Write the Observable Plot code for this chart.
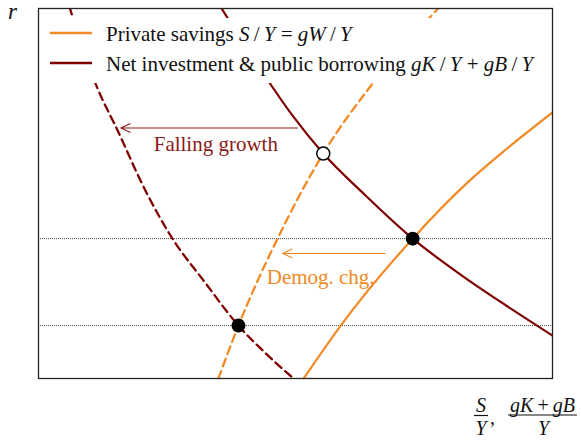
<!DOCTYPE html>
<html><head><meta charset="utf-8">
<script src="https://cdn.jsdelivr.net/npm/d3@7"></script>
<script src="https://cdn.jsdelivr.net/npm/@observablehq/plot@0.6"></script>
<style>body{margin:0;background:#fff}</style>
</head><body><div id="chart"></div>
<script>
// x: S/Y or (gK+gB)/Y (arbitrary 0–100 units), y: r (arbitrary 0–100 units)
const investX = [35.4, 43.6, 49.4, 55.4, 63.6, 72.8, 82.1, 90.9, 100];
const investY = [100.5, 82.7, 71.1, 60.8, 49.5, 37.8, 28.1, 19.8, 11.6];
const investLowX = [6.0, 11.1, 15.4, 20.8, 26.3, 32.1, 38.9, 44.2, 49.6];
const investLowY = [100.5, 79.7, 67.0, 50.8, 37.3, 26.5, 14.3, 6.8, 0];
const savingsX = [51.6, 58.8, 72.8, 83.5, 89.9, 100];
const savingsY = [0, 14.3, 37.8, 53.0, 60.7, 71.9];
const savingsShiftX = [35.0, 38.9, 46.5, 55.4, 65.0, 78.1];
const savingsShiftY = [0, 14.3, 37.8, 60.8, 79.7, 100.5];
const eqX = [38.9, 72.8];
const eqY = [14.3, 37.8];
const midEqX = [55.4];
const midEqY = [60.8];
const rLevels = [37.8, 14.3];
const arrowGrowth = {x1: 50.4, x2: 16.0, y: 67.7, label: "Falling growth", lx: 34.5, ly: 63.2};
const arrowDemog = {x1: 67.5, x2: 47.5, y: 33.8, label: "Demog. chg.", lx: 54.9, ly: 27.3};
const legendLabels = [
  [["Private savings ", false], ["S", true], ["\u2009/\u2009", false], ["Y", true], [" = ", false], ["gW", true], ["\u2009/\u2009", false], ["Y", true]],
  [["Net investment & public borrowing ", false], ["gK", true], ["\u2009/\u2009", false], ["Y", true], [" + ", false], ["gB", true], ["\u2009/\u2009", false], ["Y", true]]
];

const ORANGE = "#f08a26";
const DARKRED = "#800000";
const ARROWRED = "#8b1a1a";
const FONT = "'Liberation Serif', 'Times New Roman', serif";

const tbl = (xs, ys) => xs.map((x, i) => ({x, y: ys[i]}));

const svg = Plot.plot({
  width: 581, height: 440,
  marginTop: 8, marginRight: 29, marginBottom: 62, marginLeft: 38,
  x: {domain: [0, 100], axis: null},
  y: {domain: [0, 100], axis: null},
  style: {background: "white", fontFamily: FONT},
  marks: [
    Plot.ruleY(rLevels, {stroke: "#444", strokeWidth: 1, strokeDasharray: "1,1"}),
    Plot.line(tbl(investLowX, investLowY), {x: "x", y: "y", curve: "monotone-x", stroke: DARKRED, strokeWidth: 2.3, strokeDasharray: "8,5", clip: true}),
    Plot.line(tbl(savingsShiftX, savingsShiftY), {x: "x", y: "y", curve: "monotone-x", stroke: ORANGE, strokeWidth: 2.3, strokeDasharray: "8,5", clip: true}),
    Plot.line(tbl(investX, investY), {x: "x", y: "y", curve: "monotone-x", stroke: DARKRED, strokeWidth: 2.2, clip: true}),
    Plot.line(tbl(savingsX, savingsY), {x: "x", y: "y", curve: "monotone-x", stroke: ORANGE, strokeWidth: 2.2, clip: true}),
    Plot.arrow([arrowGrowth], {x1: "x1", x2: "x2", y1: "y", y2: "y", stroke: ARROWRED, strokeWidth: 1.1, headLength: 14, headAngle: 50}),
    Plot.arrow([arrowDemog], {x1: "x1", x2: "x2", y1: "y", y2: "y", stroke: ORANGE, strokeWidth: 1.1, headLength: 14, headAngle: 50}),
    Plot.text([arrowGrowth], {x: "lx", y: "ly", text: "label", fill: ARROWRED, fontSize: 21, textAnchor: "middle", lineAnchor: "middle"}),
    Plot.text([arrowDemog], {x: "lx", y: "ly", text: "label", fill: ORANGE, fontSize: 21, textAnchor: "middle", lineAnchor: "middle"}),
    Plot.dot(tbl(eqX, eqY), {x: "x", y: "y", r: 7, fill: "black"}),
    Plot.dot(tbl(midEqX, midEqY), {x: "x", y: "y", r: 6.5, fill: "white", stroke: "black", strokeWidth: 1.5}),
    Plot.frame({stroke: "#222", strokeWidth: 1.3})
  ]
});

document.getElementById("chart").appendChild(svg);
const s = d3.select(svg);

// Legend (inside frame, white background)
const lg = s.append("g").attr("font-family", FONT).attr("font-size", 21).attr("fill", "#111").attr("text-anchor", "start");
lg.append("rect").attr("x", 40).attr("y", 18).attr("width", 511).attr("height", 65).attr("fill", "white");
const legendColors = [ORANGE, DARKRED];
const rowY = [33, 63];
legendLabels.forEach((segs, i) => {
  lg.append("line").attr("x1", 50).attr("x2", 92).attr("y1", rowY[i]).attr("y2", rowY[i])
    .attr("stroke", legendColors[i]).attr("stroke-width", 2.5);
  const t = lg.append("text").attr("x", 106).attr("y", rowY[i] + 8);
  segs.forEach(([str, it]) => t.append("tspan").attr("font-style", it ? "italic" : "normal").text(str));
});

// Axis labels
const al = s.append("g").attr("font-family", FONT).attr("font-size", 20).attr("fill", "#111").attr("text-anchor", "start");
al.append("text").attr("x", 8).attr("y", 19).attr("font-style", "italic").attr("font-size", 23).text("r");
al.append("text").attr("x", 481).attr("y", 412).attr("text-anchor", "middle").attr("font-style", "italic").text("S");
al.append("line").attr("x1", 474).attr("x2", 488).attr("y1", 415.5).attr("y2", 415.5).attr("stroke", "#111").attr("stroke-width", 1.2);
al.append("text").attr("x", 481).attr("y", 435).attr("text-anchor", "middle").attr("font-style", "italic").text("Y");
al.append("text").attr("x", 490).attr("y", 424).text(",");
const num = al.append("text").attr("x", 542.5).attr("y", 412).attr("text-anchor", "middle");
[["gK", true], ["\u2009+\u2009", false], ["gB", true]].forEach(([str, it]) => num.append("tspan").attr("font-style", it ? "italic" : "normal").text(str));
al.append("line").attr("x1", 508).attr("x2", 577).attr("y1", 415).attr("y2", 415).attr("stroke", "#111").attr("stroke-width", 1.2);
al.append("text").attr("x", 543.5).attr("y", 435).attr("text-anchor", "middle").attr("font-style", "italic").text("Y");
</script>
</body></html>
